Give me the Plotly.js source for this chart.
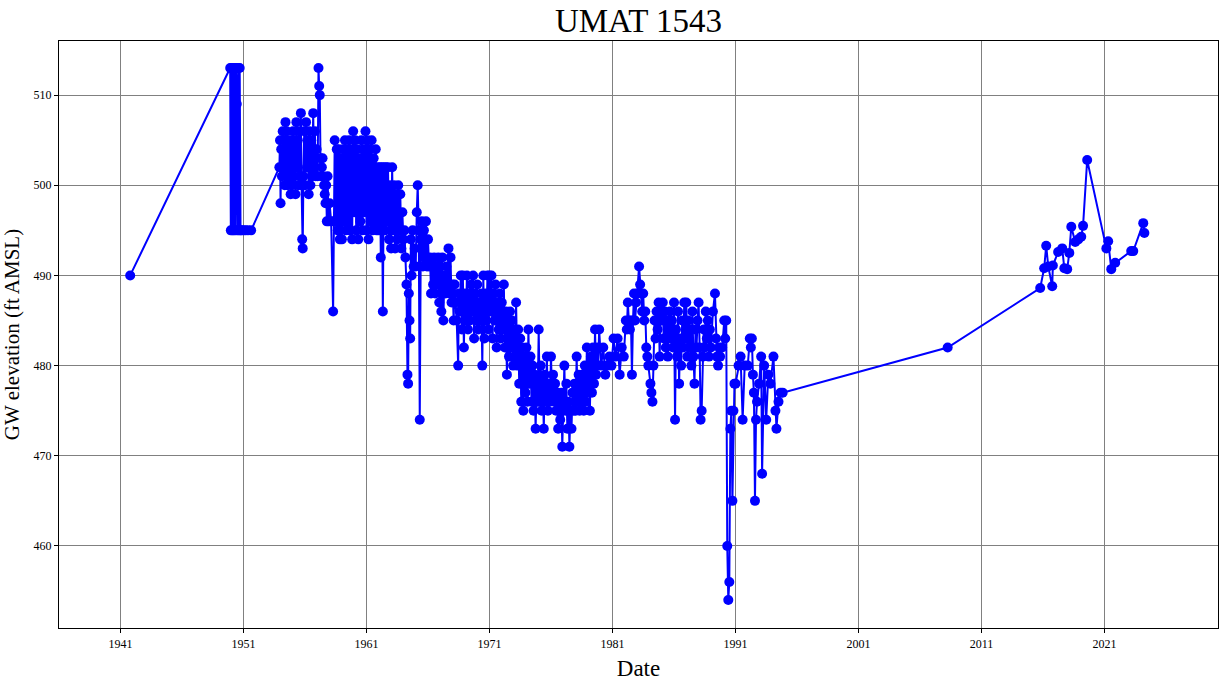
<!DOCTYPE html>
<html>
<head>
<meta charset="utf-8">
<script src="https://cdn.plot.ly/plotly-3.0.1.min.js"></script>
<style>html,body{margin:0;padding:0;background:#fff;}#chart{width:1219px;height:692px;}</style>
</head>
<body>
<div id="chart"></div>
<script>
// Observation dates
const obsDates = [
"1941-10-15",
"1949-12-01","1949-12-20","1950-01-10","1950-02-01","1950-02-20","1950-03-15","1950-04-10","1950-05-01","1950-05-20","1950-06-15","1950-07-05","1950-07-25","1950-08-20","1950-09-10","1950-10-05","1950-11-01","1951-01-01","1951-03-01","1951-05-15","1951-08-15",
"1953-12-01","1953-12-20","1954-01-05","1954-01-25","1954-02-15","1954-03-10","1954-04-01","1954-04-20","1954-05-10","1954-06-01","1954-06-20","1954-07-10","1954-08-01","1954-08-25","1954-09-15","1954-10-10","1954-11-01","1954-11-25","1954-12-15",
"1955-01-10","1955-02-01","1955-03-01","1955-03-25","1955-04-20","1955-05-10","1955-06-01","1955-06-20","1955-07-10","1955-08-01","1955-09-01","1955-09-20","1955-10-10","1955-10-25","1955-11-15","1955-12-10",
"1956-01-05","1956-02-01","1956-03-01","1956-03-25","1956-04-20","1956-05-15","1956-06-10","1956-07-05","1956-08-01","1956-09-01","1956-09-25","1956-10-20","1956-11-15","1956-12-10",
"1957-01-10","1957-02-05","1957-02-25","1957-03-15","1957-04-05","1957-04-25","1957-05-15","1957-06-05","1957-06-25","1957-07-20","1957-08-10","1957-09-01","1957-09-20","1957-10-10","1957-11-01","1957-12-01",
"1958-01-01","1958-02-15","1958-04-15","1958-05-15","1958-06-01","1958-07-01","1958-08-01","1958-09-01","1958-10-01","1958-11-01","1958-12-01",
"1959-01-01","1959-02-01","1959-03-01","1959-04-01","1959-05-01","1959-06-01","1959-07-01","1959-08-01","1959-09-01","1959-10-01","1959-11-01","1959-12-01",
"1960-01-01","1960-02-01","1960-03-01","1960-04-01","1960-05-01","1960-06-01","1960-07-01","1960-08-01","1960-09-01","1960-10-01","1960-11-01","1960-12-01",
"1961-01-01","1961-02-01","1961-03-01","1961-04-01","1961-05-01","1961-06-01","1961-07-01","1961-08-01","1961-09-01","1961-10-01","1961-11-01","1961-12-01",
"1962-01-01","1962-02-01","1962-03-01","1962-04-01","1962-05-01","1962-06-01","1962-07-01","1962-08-01","1962-09-01","1962-10-01","1962-11-01","1962-12-01",
"1963-01-01","1963-02-01","1963-03-01","1963-04-01","1963-05-01","1963-06-01","1963-07-01","1963-08-01","1963-09-01","1963-10-01","1963-11-01","1963-12-01",
"1964-01-01","1964-02-01","1964-03-01","1964-04-01","1964-05-01","1964-05-20","1964-06-10","1964-07-01","1964-07-20","1964-08-10","1964-09-01","1964-10-01","1964-11-01","1964-12-01",
"1965-01-01","1965-02-01","1965-03-01","1965-04-01","1965-05-01","1965-06-01","1965-07-01","1965-08-01","1965-09-01","1965-10-01","1965-11-01","1965-12-01",
"1966-01-01","1966-02-01","1966-03-01","1966-04-01","1966-05-01","1966-06-01","1966-07-01","1966-08-01","1966-09-01","1966-10-01","1966-11-01","1966-12-01",
"1967-01-01","1967-02-01","1967-03-01","1967-04-01","1967-05-01","1967-06-01","1967-07-01","1967-08-01","1967-09-01","1967-10-01","1967-11-01","1967-12-01",
"1968-01-01","1968-02-01","1968-03-01","1968-04-01","1968-05-01","1968-06-15","1968-07-01","1968-08-01","1968-09-01","1968-10-01","1968-11-01","1968-12-01",
"1969-01-01","1969-02-01","1969-03-01","1969-04-01","1969-05-01","1969-06-01","1969-07-01","1969-08-01","1969-09-01","1969-10-01","1969-11-01","1969-12-01",
"1970-01-01","1970-02-01","1970-03-01","1970-04-01","1970-05-01","1970-06-01","1970-07-01","1970-08-01","1970-09-01","1970-10-01","1970-11-01","1970-12-01",
"1971-01-01","1971-02-01","1971-03-01","1971-04-01","1971-05-01","1971-06-01","1971-07-01","1971-08-01","1971-09-01","1971-10-01","1971-11-01","1971-12-01",
"1972-01-01","1972-02-01","1972-03-01","1972-04-01","1972-05-01","1972-06-01","1972-07-01","1972-08-01","1972-09-01","1972-10-01","1972-11-01","1972-12-01",
"1973-01-01","1973-02-01","1973-03-01","1973-04-01","1973-05-01","1973-06-01","1973-07-01","1973-08-01","1973-09-01","1973-10-01","1973-11-01","1973-12-01",
"1974-01-01","1974-02-01","1974-03-01","1974-04-01","1974-05-01","1974-06-01","1974-07-01","1974-08-01","1974-09-01","1974-10-01","1974-11-01","1974-12-01",
"1975-01-01","1975-02-01","1975-03-01","1975-04-01","1975-05-01","1975-06-01","1975-07-01","1975-08-01","1975-09-01","1975-10-01","1975-11-01","1975-12-01",
"1976-01-01","1976-02-01","1976-03-01","1976-04-01","1976-05-01","1976-06-01","1976-07-01","1976-08-01","1976-09-01","1976-10-01","1976-11-01","1976-12-01",
"1977-01-01","1977-02-01","1977-03-01","1977-04-01","1977-05-01","1977-06-01","1977-07-01","1977-08-01","1977-09-01","1977-10-01","1977-11-01","1977-12-01",
"1978-01-01","1978-02-01","1978-03-01","1978-04-01","1978-05-01","1978-06-01","1978-07-01","1978-08-01","1978-09-01","1978-10-01","1978-11-01","1978-12-01",
"1979-01-01","1979-02-01","1979-03-01","1979-04-01","1979-05-01","1979-06-01","1979-07-01","1979-08-01","1979-09-01","1979-10-01","1979-11-01","1979-12-01",
"1980-02-01","1980-04-01","1980-06-01","1980-08-01","1980-10-01","1980-12-01",
"1981-02-01","1981-04-01","1981-06-01","1981-08-01","1981-10-01","1981-12-01",
"1982-02-01","1982-03-01","1982-04-01","1982-05-01","1982-06-01","1982-07-01","1982-08-01","1982-09-01","1982-10-01","1982-11-01","1982-12-01",
"1983-01-01","1983-03-01","1983-04-01","1983-05-01","1983-06-01","1983-07-01","1983-08-01","1983-09-01","1983-10-01","1983-11-01","1983-12-01",
"1984-02-01","1984-03-01","1984-04-01","1984-05-01","1984-06-01","1984-07-01","1984-08-01","1984-09-01","1984-10-01","1984-11-01","1984-12-01",
"1985-01-01","1985-02-01","1985-03-01","1985-04-01","1985-05-01","1985-06-01","1985-07-01","1985-08-01","1985-09-01","1985-10-01","1985-11-01","1985-12-01",
"1986-01-01","1986-02-01","1986-03-01","1986-04-01","1986-05-01","1986-06-01","1986-07-01","1986-08-01","1986-09-01","1986-10-01","1986-11-01","1986-12-01",
"1987-01-01","1987-02-01","1987-03-01","1987-04-01","1987-05-01","1987-06-01","1987-07-01","1987-08-01","1987-09-01","1987-10-01","1987-11-01","1987-12-01",
"1988-01-01","1988-02-01","1988-03-01","1988-04-01","1988-05-01","1988-06-01","1988-07-01","1988-08-01","1988-09-01","1988-10-01","1988-11-01","1988-12-01",
"1989-01-01","1989-03-01","1989-05-01","1989-06-01","1989-07-01","1989-08-01","1989-09-01","1989-10-01","1989-12-01",
"1990-02-01","1990-03-01","1990-04-01","1990-05-01","1990-06-01","1990-07-01","1990-08-01","1990-09-01","1990-10-01","1990-11-01","1990-12-01",
"1991-01-01","1991-04-01","1991-06-01","1991-08-01","1991-10-01",
"1992-01-01","1992-03-01","1992-04-01","1992-05-01","1992-06-01","1992-07-01","1992-08-01","1992-09-01","1992-10-01","1992-12-01",
"1993-02-01","1993-03-01","1993-05-01","1993-07-01","1993-09-01","1993-11-01",
"1994-02-01","1994-04-01","1994-05-01","1994-07-01","1994-09-01","1994-11-01",
"2008-04-01",
"2015-10-10","2016-02-05","2016-04-05","2016-06-05","2016-10-01","2016-10-20","2017-03-25","2017-07-25","2017-09-25","2017-12-20",
"2018-02-20","2018-04-20","2018-08-15","2018-11-15","2019-02-10","2019-04-05","2019-08-05",
"2021-02-25","2021-04-20","2021-07-20","2021-11-15","2023-03-05","2023-05-05","2024-02-25","2024-03-30"
];

// GW elevation (ft AMSL)
const gwElevation = [
490,
513,495,513,495,513,495,513,495,513,509,495,513,495,513,495,495,495,495,495,495,
502,505,498,504,501,506,502,505,500,507,501,506,500,505,501,504,499,505,500,
506,501,505,499,507,502,505,500,506,501,508,500,494,493,501,506,
500,507,502,505,499,506,500,505,501,508,502,506,501,504,
501,513,511,510,503,501,502,503,501,500,499,498,500,496,501,496,
498,496,486,496,505,496,504,495,504,494,503,
494,504,496,505,495,504,496,505,495,504,494,506,
497,505,495,504,494,503,496,505,495,504,497,506,
495,505,494,504,496,505,495,503,496,504,495,502,
495,502,492,502,486,502,495,502,496,502,494,500,
493,502,495,500,493,499,494,500,495,499,493,497,
494,495,492,489,479,478,488,485,483,494,490,495,491,493,
491,497,500,495,474,494,496,491,495,492,496,491,
494,491,492,488,491,489,492,488,491,489,492,487,
491,486,492,485,490,488,491,489,493,488,492,487,
489,485,489,487,485,480,488,486,490,484,490,482,
488,485,490,484,488,485,489,486,490,483,488,485,
489,484,487,485,488,480,490,483,488,485,490,484,
490,486,490,483,488,485,489,482,487,484,488,483,
487,484,489,482,486,479,485,481,486,482,485,480,
484,481,487,480,484,478,483,476,482,475,481,477,
482,476,484,478,481,476,480,475,479,473,478,476,
484,476,480,475,478,473,479,476,481,475,478,476,
481,477,479,476,478,475,477,473,476,474,477,471,
476,480,475,478,473,476,471,475,473,477,475,478,
475,481,476,479,475,478,476,479,475,480,476,482,
477,480,475,481,477,482,478,484,479,482,480,484,
480,482,479,480,481,480,
483,481,483,479,482,481,
485,484,487,485,484,485,479,485,488,485,487,
488,491,489,488,486,488,485,486,482,481,480,
478,477,476,480,485,483,486,484,487,481,486,
485,487,483,486,482,485,481,484,486,483,485,482,
487,474,484,481,486,478,483,480,485,482,487,483,
487,481,485,482,484,480,486,481,478,484,482,485,
487,482,474,475,481,484,482,486,483,485,481,484,
482,486,488,483,481,480,482,481,482,
485,483,485,460,454,456,473,475,465,475,478,
478,480,481,474,480,
480,483,482,483,479,477,465,474,476,478,
481,468,480,474,479,478,
481,475,473,476,477,477,
482,
488.6,490.8,493.3,491.0,488.8,491.1,492.6,493.0,490.8,490.7,
492.5,495.4,493.7,494.0,494.3,495.5,502.8,
493.0,493.8,490.7,491.4,492.7,492.7,495.8,494.7
];

// Axis tick labels
const xTickDates = ["1941-01-01","1951-01-01","1961-01-01","1971-01-01","1981-01-01","1991-01-01","2001-01-01","2011-01-01","2021-01-01"];
const xTickLabels = ["1941","1951","1961","1971","1981","1991","2001","2011","2021"];
const yTickValues = [460,470,480,490,500,510];

const serif = "Liberation Serif, Times New Roman, serif";

Plotly.newPlot("chart", [{
  x: obsDates,
  y: gwElevation,
  type: "scatter",
  mode: "lines+markers",
  line: {color: "#0000ff", width: 2},
  marker: {color: "#0000ff", size: 10},
  showlegend: false
}], {
  width: 1219, height: 692,
  margin: {l: 59, r: 1, t: 41, b: 64},
  paper_bgcolor: "#fff", plot_bgcolor: "#fff",
  title: {text: "UMAT 1543", font: {family: serif, size: 33, color: "#000"}, xref: "paper", x: 0.5, xanchor: "center", y: 0.97, yanchor: "middle"},
  xaxis: {
    type: "date",
    range: ["1936-01-01", "2030-03-25"],
    tickvals: xTickDates, ticktext: xTickLabels,
    tickfont: {family: serif, size: 12, color: "#000"},
    ticks: "outside", ticklen: 4, tickcolor: "#000",
    showgrid: true, gridcolor: "#808080", gridwidth: 1,
    showline: true, linecolor: "#000", linewidth: 1.2, mirror: true,
    zeroline: false,
    title: {text: "Date", font: {family: serif, size: 23, color: "#000"}, standoff: 10}
  },
  yaxis: {
    range: [450.9, 516],
    tickvals: yTickValues,
    tickfont: {family: serif, size: 12, color: "#000"},
    ticks: "outside", ticklen: 4, tickcolor: "#000",
    showgrid: true, gridcolor: "#808080", gridwidth: 1,
    showline: true, linecolor: "#000", linewidth: 1.2, mirror: true,
    zeroline: false,
    title: {text: "GW elevation (ft AMSL)", font: {family: serif, size: 21, color: "#000"}, standoff: 8}
  }
}, {displayModeBar: false, staticPlot: true});
</script>
</body>
</html>
